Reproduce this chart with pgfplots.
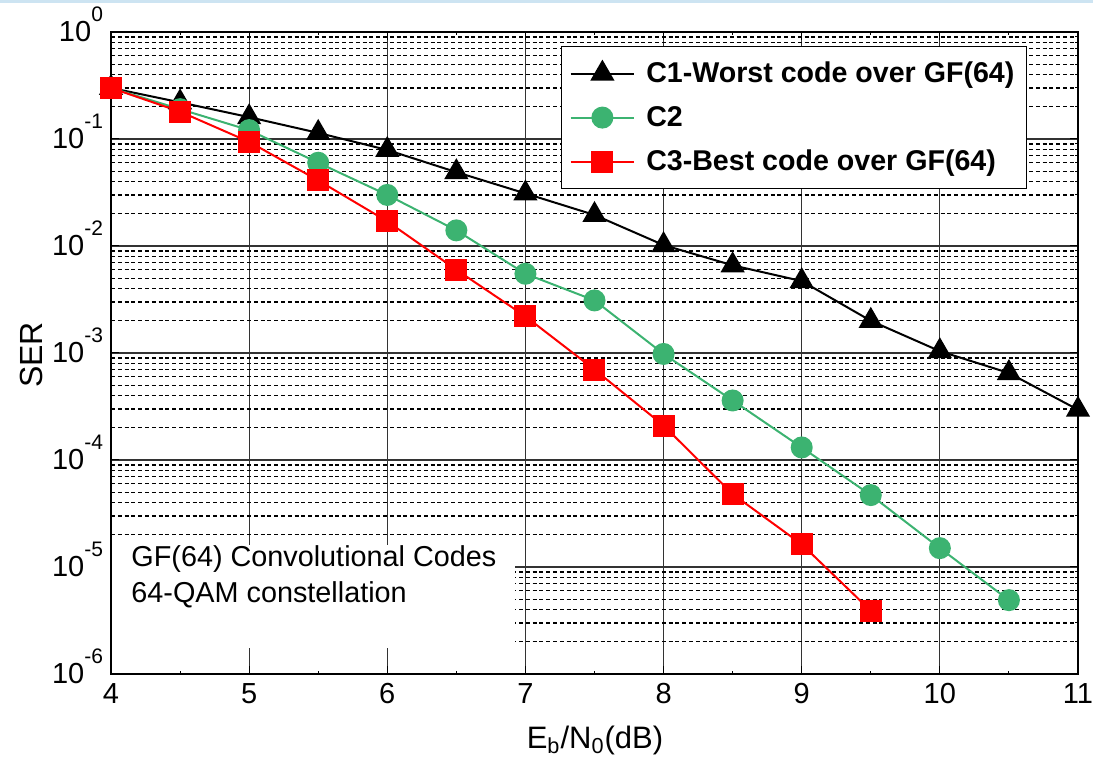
\documentclass[border=0pt]{standalone}
\usepackage{fontspec}
\setmainfont{Liberation Sans}
\usepackage{pgfplots}
\pgfplotsset{compat=1.18}
\definecolor{cgreen}{RGB}{60,179,113}
\definecolor{topblue}{RGB}{205,228,242}
\newcommand{\tp}[1]{10\smash{\raisebox{10pt}{\fontsize{10.5}{10.5}\selectfont #1}}}
\begin{document}
\begin{tikzpicture}
\path[use as bounding box] (0,0) rectangle (546.5pt,379pt);
\fill[topblue] (0,377.5pt) rectangle (546.5pt,379pt);
\begin{axis}[
  at={(55.5pt,42pt)}, anchor=south west,
  scale only axis, width=483.5pt, height=321pt,
  ymode=log, xmin=4, xmax=11, ymin=1e-6, ymax=1,
  xtick={4,5,...,11}, minor x tick num=1,
  ytick={1e-6,1e-5,1e-4,1e-3,1e-2,1e-1,1},
  yticklabels={\tp{-6},\tp{-5},\tp{-4},\tp{-3},\tp{-2},\tp{-1},\tp{0}},
  xmajorgrids=true, ymajorgrids=true, yminorgrids=true, xminorgrids=false,
  major grid style={black!80, line width=0.6pt},
  minor grid style={black, dash pattern=on 2pt off 1.4pt, line width=0.65pt},
  tick align=inside, major tick length=4pt, minor tick length=1.5pt,
  tick style={black, line width=0.5pt},
  axis line style={line width=0.7pt},
  ticklabel style={font=\fontsize{14.5}{15}\selectfont},
  /pgf/number format/assume math mode=true,
  xticklabel style={yshift=-1pt},
  yticklabel style={xshift=-0.5pt},
  xlabel={E\textsubscript{b}/N\textsubscript{0}(dB)},
  ylabel={SER},
  xlabel style={font=\fontsize{15.5}{16}\selectfont, at={(axis description cs:0.5005,-0.103)}, anchor=center},
  ylabel style={font=\fontsize{16}{17}\selectfont, at={(axis description cs:-0.0827,0.497)}, anchor=center, rotate=0},
  legend style={at={(0.9473,0.9782)}, anchor=north east, draw=black, line width=0.6pt,
    font=\fontsize{14.3}{15}\bfseries\selectfont, inner xsep=4pt, inner ysep=4pt,
    row sep=3pt,
    /tikz/every odd column/.append style={column sep=3.5pt},
    nodes={inner sep=2pt, text height=12pt, text depth=3pt}},
  legend cell align=left,
  legend image code/.code={\draw[mark repeat=2,mark phase=2] plot coordinates {(0cm,0cm) (0.56cm,0cm) (1.12cm,0cm)};},
]
\fill[white] (axis description cs:0.0015,0.0405) rectangle (axis description cs:0.418,0.201);
\node[anchor=base west, font=\fontsize{14.4}{18}\selectfont, inner sep=0] at (axis description cs:0.0207,0.1667) {GF(64) Convolutional Codes};
\node[anchor=base west, font=\fontsize{14.4}{18}\selectfont, inner sep=0] at (axis description cs:0.0207,0.1106) {64-QAM constellation};

\addplot[black, line width=1pt, mark=triangle*, mark size=6pt] coordinates {
(4,0.30) (4.5,0.22) (5,0.16) (5.5,0.114) (6,0.079) (6.5,0.049) (7,0.031) (7.5,0.0195)
(8,0.0102) (8.5,0.0066) (9,0.0047) (9.5,0.0020) (10,0.00104) (10.5,0.00065) (11,0.000295)};
\addlegendentry{C1-Worst code over GF(64)}
\addplot[cgreen, line width=1pt, mark=*, mark size=5pt] coordinates {
(4,0.30) (4.5,0.19) (5,0.121) (5.5,0.060) (6,0.030) (6.5,0.014) (7,0.0055) (7.5,0.0031)
(8,0.00098) (8.5,0.00036) (9,0.000131) (9.5,4.7e-5) (10,1.5e-5) (10.5,4.9e-6)};
\addlegendentry{C2}
\addplot[red, line width=1pt, mark=square*, mark size=5pt] coordinates {
(4,0.30) (4.5,0.18) (5,0.094) (5.5,0.041) (6,0.017) (6.5,0.006) (7,0.0022) (7.5,0.0007)
(8,0.00021) (8.5,4.8e-5) (9,1.63e-5) (9.5,3.9e-6)};
\addlegendentry{C3-Best code over GF(64)}
\end{axis}
\end{tikzpicture}
\end{document}
